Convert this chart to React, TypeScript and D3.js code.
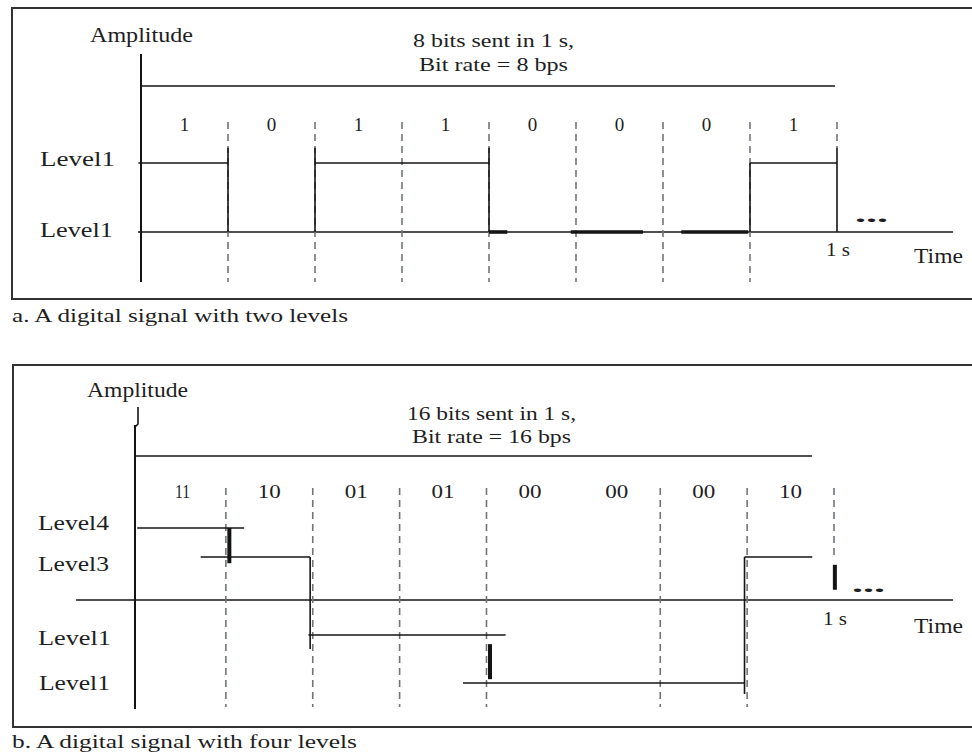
import React from 'react'
import * as d3 from 'd3'

// bit labels over each interval
const TOP_BITS = ['1', '0', '1', '1', '0', '0', '0', '1']
const BOTTOM_BITS = ['11', '10', '01', '01', '00', '00', '00', '10']

// horizontal signal pieces: [level, fromBit, toBit]
const TOP_SEGMENTS: [number, number, number][] = [
  [1, -0.03, 1], [1, 2, 4], [1, 7, 8],
]
// vertical transitions: [atBit, fromLevel, toLevel]
const TOP_STEPS: [number, number, number][] = [
  [1, 1.22, 0], [2, 0, 1.22], [4, 1.22, 0], [7, 0, 1], [8, 1.22, 0],
]
// heavy strokes lying on the low level: [fromBit, toBit]
const TOP_HEAVY: [number, number][] = [[4.0, 4.21], [4.94, 5.77], [6.21, 6.98]]

const BOTTOM_SEGMENTS: [number, number, number][] = [
  [4, -0.02, 1.21], [3, 0.71, 1.97], [2, 1.95, 4.22], [1, 3.73, 6.97], [3, 6.97, 7.75],
]
const BOTTOM_STEPS: [number, number, number][] = [
  [1.97, 3, 1.71], [6.97, 3, 0.77],
]
// heavy vertical ticks: [atBit, fromLevel, toLevel]
const BOTTOM_HEAVY: [number, number, number][] = [
  [1.04, 4, 2.92], [4.04, 1.81, 1.08], [8.01, 2.9, 2.58],
]

// dashed bit boundaries: [bit, full length?]
const TOP_DASHES: [number, boolean][] = [[1, true], [2, true], [3, true], [4, true], [5, true], [6, true], [7, true], [8, false]]
const BOTTOM_DASHES: [number, boolean][] = [[1, true], [2, true], [3, true], [4, true], [6, true], [7, true], [8, false]]

const INK = '#141414'
const TXT = '#1e1e1e'
const DASH = '#6e767a'
const FONT = '"Liberation Serif", "Times New Roman", serif'

function Label({ x, y, size, w, anchor = 'start', weight, children }: {
  x: number; y: number; size: number; w?: number; anchor?: string; weight?: string; children: React.ReactNode
}) {
  return (
    <text
      x={x} y={y}
      fontSize={size}
      fontFamily={FONT}
      fill={TXT}
      textAnchor={anchor}
      fontWeight={weight}
      textLength={w}
      lengthAdjust={w ? 'spacingAndGlyphs' : undefined}
    >{children}</text>
  )
}

export default function App() {
  // ---- panel a
  const xa = d3.scaleLinear().domain([0, 8]).range([141, 837])
  const ya = d3.scaleLinear().domain([0, 1]).range([232, 163])
  // ---- panel b
  const xb = d3.scaleLinear().domain([0, 8]).range([139, 834])
  const yb = d3.scaleLinear().domain([1, 2, 3, 4]).range([683, 635, 557, 528])
  const axisB = 600

  const line = d3.line<[number, number]>()

  return (
    <svg width={972} height={753} style={{ position: 'absolute', left: 0, top: 0, background: '#fff' }}>
      {/* ===== panel a frame ===== */}
      <path d="M972,8 H12 V299 H972" fill="none" stroke="#333" strokeWidth={2} />

      <Label x={90} y={42} size={20} w={103}>Amplitude</Label>
      <Label x={413} y={47} size={19} w={161}>8 bits sent in 1 s,</Label>
      <Label x={419} y={71} size={19} w={149}>Bit rate = 8 bps</Label>

      {/* axes */}
      <line x1={141} x2={141} y1={54} y2={282} stroke={INK} strokeWidth={2} />
      <line x1={141} x2={835} y1={86} y2={86} stroke={INK} strokeWidth={1.5} />
      <line x1={138} x2={953} y1={ya(0)} y2={ya(0)} stroke={INK} strokeWidth={1.5} />

      {/* dashed boundaries */}
      {TOP_DASHES.map(([b, full]) => (
        <line key={`da${b}`} x1={xa(b)} x2={xa(b)} y1={122} y2={full ? 282 : 148}
          stroke={DASH} strokeWidth={1.6} strokeDasharray="7 5" />
      ))}

      {TOP_BITS.map((t, i) => (
        <Label key={`ba${i}`} x={xa(i + 0.5)} y={131} size={19} anchor="middle">{t}</Label>
      ))}

      {/* signal */}
      {TOP_SEGMENTS.map(([lv, a, b], i) => (
        <path key={`sa${i}`} d={line([[xa(a), ya(lv)], [xa(b), ya(lv)]]) ?? ''} stroke={INK} strokeWidth={1.6} fill="none" />
      ))}
      {TOP_STEPS.map(([at, l0, l1], i) => (
        <path key={`ta${i}`} d={line([[xa(at), ya(l0)], [xa(at), ya(l1)]]) ?? ''} stroke={INK} strokeWidth={1.6} fill="none" />
      ))}
      {TOP_HEAVY.map(([a, b], i) => (
        <path key={`ha${i}`} d={line([[xa(a), ya(0)], [xa(b), ya(0)]]) ?? ''} stroke={INK} strokeWidth={3.6} fill="none" />
      ))}

      <Label x={40} y={166} size={22} w={75}>Level1</Label>
      <Label x={40} y={237} size={22} w={73}>Level1</Label>
      <Label x={855} y={222} size={20} w={33} weight="bold">...</Label>
      <Label x={826} y={256} size={19} w={24}>1 s</Label>
      <Label x={914} y={263} size={21} w={49}>Time</Label>

      <Label x={12} y={322} size={18} w={336}>a. A digital signal with two levels</Label>

      {/* ===== panel b frame ===== */}
      <path d="M972,365 H13 V727 H972" fill="none" stroke="#333" strokeWidth={2} />

      <Label x={87} y={397} size={20} w={101}>Amplitude</Label>
      <Label x={407} y={420} size={19} w={169}>16 bits sent in 1 s,</Label>
      <Label x={412} y={443} size={19} w={159}>Bit rate = 16 bps</Label>

      <path d="M138,407 V424 L135,427" fill="none" stroke={INK} strokeWidth={1.6} />
      <line x1={135} x2={135} y1={425} y2={709} stroke={INK} strokeWidth={2} />
      <line x1={135} x2={812} y1={456} y2={456} stroke={INK} strokeWidth={1.5} />
      <line x1={76} x2={953} y1={axisB} y2={axisB} stroke={INK} strokeWidth={1.5} />

      {BOTTOM_DASHES.map(([b, full]) => (
        <line key={`db${b}`} x1={xb(b)} x2={xb(b)} y1={488} y2={full ? 707 : 557}
          stroke={DASH} strokeWidth={1.6} strokeDasharray="7 5" />
      ))}

      {BOTTOM_BITS.map((t, i) => (
        <Label key={`bb${i}`} x={xb(i + 0.5)} y={498} size={19} w={i === 0 ? 15 : 23} anchor="middle">{t}</Label>
      ))}

      {BOTTOM_SEGMENTS.map(([lv, a, b], i) => (
        <path key={`sb${i}`} d={line([[xb(a), yb(lv)], [xb(b), yb(lv)]]) ?? ''} stroke={INK} strokeWidth={1.6} fill="none" />
      ))}
      {BOTTOM_STEPS.map(([at, l0, l1], i) => (
        <path key={`tb${i}`} d={line([[xb(at), yb(l0)], [xb(at), yb(l1)]]) ?? ''} stroke={INK} strokeWidth={1.6} fill="none" />
      ))}
      {BOTTOM_HEAVY.map(([at, l0, l1], i) => (
        <path key={`hb${i}`} d={line([[xb(at), yb(l0)], [xb(at), yb(l1)]]) ?? ''} stroke={INK} strokeWidth={4} fill="none" />
      ))}

      <Label x={38} y={530} size={22} w={71}>Level4</Label>
      <Label x={38} y={571} size={22} w={71}>Level3</Label>
      <Label x={38} y={645} size={22} w={73}>Level1</Label>
      <Label x={39} y={690} size={22} w={71}>Level1</Label>
      <Label x={852} y={592} size={20} w={33} weight="bold">...</Label>
      <Label x={823} y={625} size={19} w={24}>1 s</Label>
      <Label x={914} y={633} size={21} w={49}>Time</Label>

      <Label x={12} y={748} size={18} w={345}>b. A digital signal with four levels</Label>
    </svg>
  )
}
